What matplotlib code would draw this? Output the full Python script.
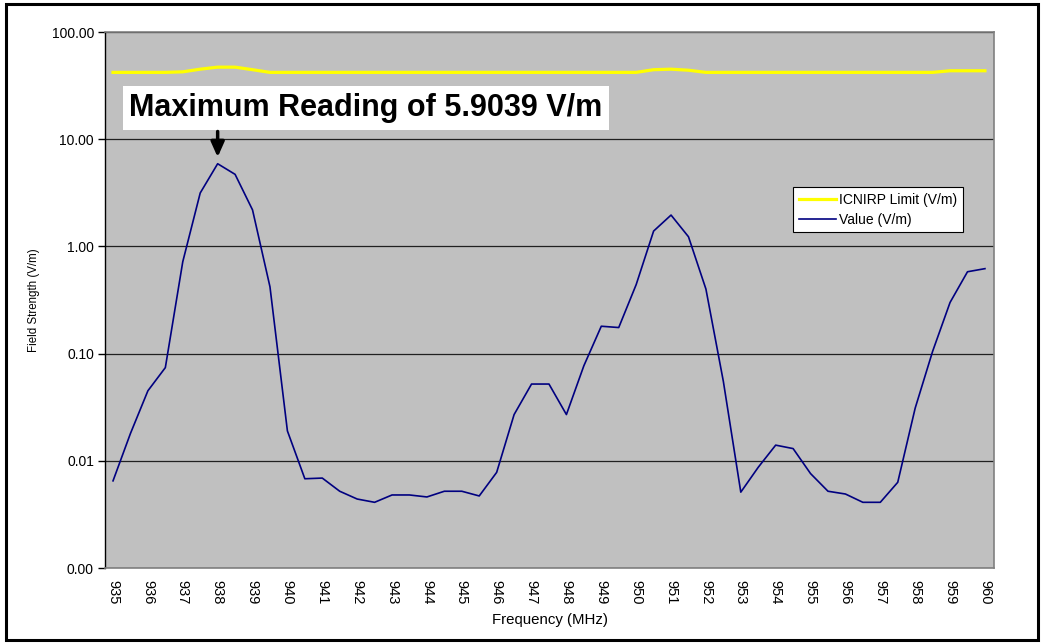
import numpy as np
import matplotlib
matplotlib.use("Agg")
import matplotlib.pyplot as plt
from matplotlib.patches import Rectangle
from matplotlib.ticker import FixedLocator, FuncFormatter

plt.rcParams['font.family'] = ['Liberation Sans', 'DejaVu Sans']

# frequency points (MHz), half-MHz steps
freq = [935, 935.5, 936, 936.5, 937, 937.5, 938, 938.5, 939, 939.5,
        940, 940.5, 941, 941.5, 942, 942.5, 943, 943.5, 944, 944.5,
        945, 945.5, 946, 946.5, 947, 947.5, 948, 948.5, 949, 949.5,
        950, 950.5, 951, 951.5, 952, 952.5, 953, 953.5, 954, 954.5,
        955, 955.5, 956, 956.5, 957, 957.5, 958, 958.5, 959, 959.5, 960]

# measured field strength (V/m)
value = [0.0065, 0.018, 0.045, 0.074, 0.72, 3.15, 5.9039, 4.7, 2.19, 0.42,
         0.019, 0.0068, 0.0069, 0.0052, 0.0044, 0.0041, 0.0048, 0.0048, 0.0046, 0.0052,
         0.0052, 0.0047, 0.0078, 0.027, 0.052, 0.052, 0.027, 0.077, 0.18, 0.175,
         0.44, 1.39, 1.96, 1.23, 0.40, 0.055, 0.0051, 0.0087, 0.014, 0.013,
         0.0076, 0.0052, 0.0049, 0.0041, 0.0041, 0.0063, 0.031, 0.105, 0.30, 0.58, 0.62]

# ICNIRP limit (V/m)
limit = [42, 42, 42, 42, 42.5, 45, 47, 47, 44.5, 42,
         42, 42, 42, 42, 42, 42, 42, 42, 42, 42,
         42, 42, 42, 42, 42, 42, 42, 42, 42, 42,
         42, 44.5, 45, 44, 42, 42, 42, 42, 42, 42,
         42, 42, 42, 42, 42, 42, 42, 42, 43.5, 43.5, 43.5]

x_ticks = list(range(935, 961))
y_ticks = [0.001, 0.01, 0.1, 1, 10, 100]

fig = plt.figure(figsize=(10.43, 6.44), dpi=100)
ax = fig.add_axes([105 / 1043, 1 - 568 / 644, 889 / 1043, 536 / 644])
ax.set_facecolor('#C0C0C0')

ax.plot(freq, limit, color='#FFFF00', lw=2.3, label='ICNIRP Limit (V/m)', zorder=3)
ax.plot(freq, value, color='#000080', lw=1.2, label='Value (V/m)', zorder=3)

ax.set_yscale('log')
ax.set_ylim(0.001, 100)
ax.set_xlim(934.77, 960.26)
ax.yaxis.set_major_locator(FixedLocator(y_ticks))
ax.yaxis.set_minor_locator(FixedLocator([]))
ax.yaxis.set_major_formatter(FuncFormatter(lambda v, p: '%.2f' % v))
ax.set_xticks(x_ticks)
ax.set_xticklabels([str(t) for t in x_ticks], rotation=-90, fontsize=10.5)
ax.tick_params(axis='x', length=0, pad=9)
ax.tick_params(axis='y', length=5, width=1, labelsize=10, pad=3)
ax.grid(axis='y', color='#202020', lw=0.9, zorder=1)

for s in ['right', 'bottom', 'top']:
    ax.spines[s].set_color('#808080')
    ax.spines[s].set_linewidth(1.2)
ax.spines['left'].set_color('black')
ax.spines['left'].set_linewidth(1.0)

ax.set_xlabel('Frequency (MHz)', fontsize=10.8, labelpad=6)
ax.set_ylabel('Field Strength (V/m)', fontsize=8.3, labelpad=8)

leg = ax.legend(loc='upper left', bbox_to_anchor=(688 / 889, 1 - 155 / 536),
                fontsize=10, frameon=True, fancybox=False, handlelength=2.7,
                borderpad=0.4, labelspacing=0.45, handletextpad=0.2, borderaxespad=0)
leg.get_frame().set_edgecolor('black')
leg.get_frame().set_linewidth(0.8)
leg.get_frame().set_facecolor('white')
leg.get_frame().set_alpha(1)

ax.text(942.25, 19.5, 'Maximum Reading of 5.9039 V/m', fontsize=22, fontweight='bold',
        ha='center', va='center', zorder=5,
        bbox=dict(boxstyle='square,pad=0.22', facecolor='white', edgecolor='none'))
ax.annotate('', xy=(938, 6.8), xytext=(938, 11.8),
            arrowprops=dict(arrowstyle='-|>,head_width=0.4,head_length=0.9',
                            color='black', lw=2.5, shrinkA=0, shrinkB=0), zorder=5)

fig.patches.append(Rectangle((5.5 / 1043, 4 / 644), 1032 / 1043, 636 / 644,
                             transform=fig.transFigure, fill=False,
                             edgecolor='black', lw=2.2))

fig.savefig('out.png', dpi=100)
